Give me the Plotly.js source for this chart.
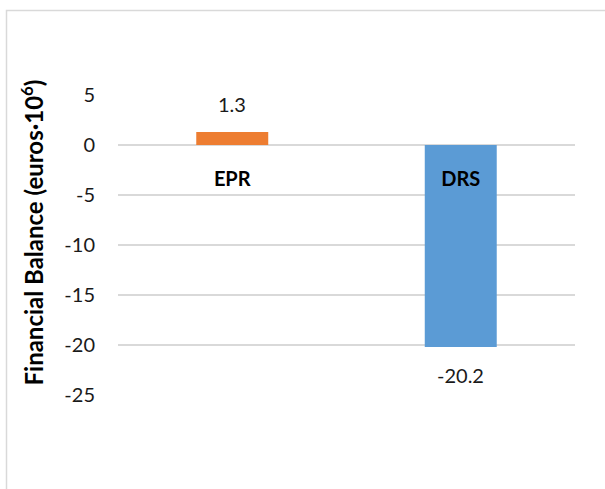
<!DOCTYPE html>
<html>
<head>
<meta charset="utf-8">
<script src="https://cdn.plot.ly/plotly-3.0.1.min.js"></script>
<style>
html,body{margin:0;padding:0;background:#fff;overflow:hidden;}
#chart{width:605px;height:489px;}
</style>
</head>
<body>
<div id="chart"></div>
<script>
const categories = ["EPR", "DRS"];
const values = [1.3, -20.2];
const valueLabels = ["1.3", "-20.2"];
const barColors = ["#ED7D31", "#5B9BD5"];
const yTicks = [5, 0, -5, -10, -15, -20, -25];
const yTitle = "Financial Balance (euros·10<sup>6</sup>)";

const FONT = "Lato, 'Open Sans', sans-serif";

const trace = {
  type: "bar",
  x: categories,
  y: values,
  marker: {color: barColors},
  hoverinfo: "none",
  showlegend: false
};

const annotations = categories.map((c, i) => ({
  x: c, y: values[i], xref: "x", yref: "y",
  text: valueLabels[i], showarrow: false,
  yshift: values[i] >= 0 ? 28 : -28,
  font: {family: FONT, size: 20, color: "#1a1a1a"}
}));
annotations.push({
  xref: "paper", yref: "paper", x: (31 - 118) / 457, y: (394.5 - 232) / 300,
  xanchor: "center", yanchor: "middle",
  text: yTitle, textangle: -90, showarrow: false,
  font: {family: FONT, size: 24, color: "#000", weight: "bold"}
});

const layout = {
  width: 605, height: 489,
  margin: {l: 118, r: 30, t: 95, b: 94, pad: 0},
  paper_bgcolor: "#fff", plot_bgcolor: "#fff",
  bargap: 0.685,
  xaxis: {
    type: "category",
    anchor: "free",
    position: 25 / 30,
    showline: false, showgrid: false, zeroline: false,
    ticks: "",
    ticklabelstandoff: 20,
    tickfont: {family: FONT, size: 20, color: "#000", weight: "bold"}
  },
  yaxis: {
    range: [-25, 5],
    tickvals: yTicks,
    ticktext: yTicks.map(String),
    showgrid: true, gridcolor: "#d9d9d9", gridwidth: 1.5,
    zeroline: false, showline: false, ticks: "",
    ticklabelstandoff: 22,
    tickfont: {family: FONT, size: 20, color: "#1a1a1a"}
  },
  annotations: annotations,
  shapes: [{
    type: "rect", xref: "paper", yref: "paper",
    x0: (6.5 - 118) / 457, x1: 1.2,
    y0: -0.4, y1: (394.5 - 10) / 300,
    line: {color: "#d9d9d9", width: 1.5},
    fillcolor: "rgba(0,0,0,0)", layer: "below"
  }]
};

Plotly.newPlot("chart", [trace], layout, {staticPlot: true, displayModeBar: false});
</script>
</body>
</html>
